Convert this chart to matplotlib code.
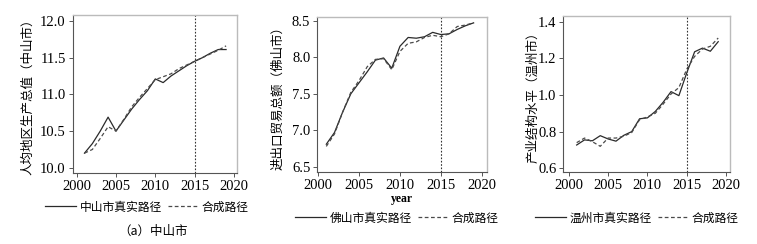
import matplotlib
matplotlib.use('Agg')
import matplotlib.pyplot as plt
import numpy as np

plt.rcParams['font.family'] = ['Liberation Serif', 'Noto Sans CJK SC']
CJK = ['Noto Sans CJK SC', 'DejaVu Sans']

years = np.arange(2001, 2020)

# (a) 中山市 人均地区生产总值
zs_real = [10.20, 10.33, 10.50, 10.69, 10.50, 10.65, 10.80, 10.93, 11.05, 11.21,
           11.16, 11.25, 11.32, 11.39, 11.45, 11.50, 11.56, 11.61, 11.61]
zs_synth = [10.20, 10.25, 10.40, 10.56, 10.50, 10.66, 10.83, 10.96, 11.08, 11.20,
            11.24, 11.28, 11.35, 11.40, 11.45, 11.50, 11.55, 11.60, 11.66]

# (b) 佛山市 进出口贸易总额
fs_real = [6.81, 6.97, 7.25, 7.50, 7.65, 7.80, 7.96, 7.99, 7.85, 8.15,
           8.27, 8.26, 8.28, 8.34, 8.31, 8.32, 8.38, 8.43, 8.47]
fs_synth = [6.78, 6.95, 7.25, 7.52, 7.68, 7.87, 7.97, 7.98, 7.83, 8.08,
            8.19, 8.21, 8.27, 8.30, 8.28, 8.32, 8.42, 8.44, 8.47]

# (c) 温州市 产业结构水平
wz_real = [0.727, 0.755, 0.750, 0.778, 0.760, 0.748, 0.780, 0.800, 0.870, 0.875,
           0.910, 0.960, 1.018, 0.996, 1.120, 1.235, 1.255, 1.238, 1.290]
wz_synth = [0.740, 0.765, 0.745, 0.720, 0.765, 0.765, 0.775, 0.795, 0.865, 0.880,
            0.900, 0.950, 1.005, 1.040, 1.140, 1.210, 1.250, 1.265, 1.310]

panels = [
    dict(real=zs_real, synth=zs_synth, ylabel='人均地区生产总值（中山市）',
         name='中山市真实路径', yticks=[10.0, 10.5, 11.0, 11.5, 12.0],
         ylim=(9.93, 12.08), xlim=(1999.5, 2020.35), vline=2015,
         pos=[72.7, 15, 236.7, 173], ylab_x=28, leg=(147, 207)),
    dict(real=fs_real, synth=fs_synth, ylabel='进出口贸易总额（佛山市）',
         name='佛山市真实路径', yticks=[6.5, 7.0, 7.5, 8.0, 8.5],
         ylim=(6.43, 8.55), xlim=(1999.9, 2020.6), vline=2015,
         pos=[317.3, 17, 486.7, 172], ylab_x=278, leg=(397, 218)),
    dict(real=wz_real, synth=wz_synth, ylabel='产业结构水平（温州市）',
         name='温州市真实路径', yticks=[0.6, 0.8, 1.0, 1.2, 1.4],
         ylim=(0.58, 1.43), xlim=(1999.3, 2020.5), vline=2015,
         pos=[563.3, 16, 730, 172], ylab_x=533, leg=(637, 218)),
]

W, H = 757, 244
fig = plt.figure(figsize=(W / 100, H / 100), dpi=100)

for p in panels:
    x0, y0, x1, y1 = p['pos']
    ax = fig.add_axes([x0 / W, 1 - y1 / H, (x1 - x0) / W, (y1 - y0) / H])
    l1, = ax.plot(years, p['real'], color='#2a2a2a', lw=0.9, ls='-')
    l2, = ax.plot(years, p['synth'], color='#4a4a4a', lw=0.9, ls=(0, (3, 2)))
    ax.axvline(p['vline'], color='#333333', lw=0.8, ls=(0, (1.5, 1.5)))
    ax.set_xlim(*p['xlim'])
    ax.set_ylim(*p['ylim'])
    ax.set_xticks([2000, 2005, 2010, 2015, 2020])
    ax.set_yticks(p['yticks'])
    ax.set_yticklabels(['%.1f' % v for v in p['yticks']])
    ax.tick_params(labelsize=10.5, length=3, width=0.7, color='#555555', pad=2)
    for s in ['left', 'bottom']:
        ax.spines[s].set_color('#555555')
        ax.spines[s].set_linewidth(0.8)
    for s in ['top', 'right']:
        ax.spines[s].set_color('#bbbbbb')
        ax.spines[s].set_linewidth(1.0)
    fig.text(p['ylab_x'] / W, 1 - ((y0 + y1) / 2) / H, p['ylabel'],
             rotation=90, ha='center', va='center', fontsize=9, family=CJK)
    ax.legend([l1, l2], [p['name'], '合成路径'], ncol=2, frameon=False,
              loc='center', bbox_to_anchor=(p['leg'][0] / W, 1 - p['leg'][1] / H),
              bbox_transform=fig.transFigure, prop={'family': CJK, 'size': 8.5},
              handlelength=2.6, columnspacing=0.5, handletextpad=0.3)

fig.text(402 / W, 1 - 199 / H, 'year', ha='center', va='center', fontsize=8.5,
         fontweight='bold')
fig.text(153 / W, 1 - 231 / H, '（a）中山市', ha='center', va='center',
         fontsize=9, family=CJK)

fig.savefig('out.png', dpi=100, facecolor='white')
